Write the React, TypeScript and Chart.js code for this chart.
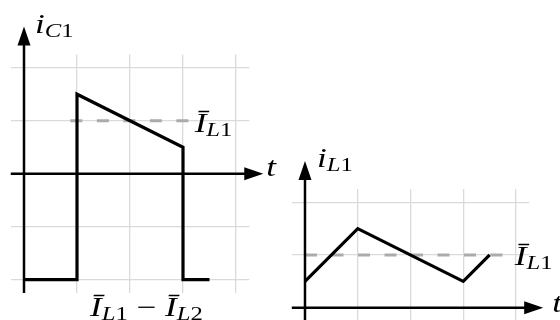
import { useEffect, useRef } from "react";
import { Chart, registerables } from "chart.js";

Chart.register(...registerables);

// Capacitor current i_C1 over one switching period
const capT = [0, 1, 1, 3, 3, 3.5];
const capI = [-2, -2, 1.5, 0.5, -2, -2];
// Average inductor current level shown on the capacitor plot
const capAvgT = [0.875, 3.125];
const capAvgI = [1, 1];

// Inductor current i_L1
const indT = [0, 1, 3, 3.5];
const indI = [0.5, 1.5, 0.5, 1];
const indAvgT = [0, 3.75];
const indAvgI = [1, 1];

const W = 560;
const H = 320;
const FONT = '"Liberation Serif", "DejaVu Serif", serif';
const MAIN = 27;
const SUB = 19;
const SUB_DROP = 4;
const STRETCH = 1.3; // wide math lettering

type Piece = [string, boolean, boolean]; // text, italic, subscript
type Label = { vx: number; vy: number; dx: number; dy: number; pieces: Piece[] };

function drawMath(ctx: CanvasRenderingContext2D, x: number, y: number, pieces: Piece[]) {
  ctx.save();
  ctx.translate(x, y);
  ctx.scale(STRETCH, 1);
  let cx = 0;
  for (const [t, it, sub] of pieces) {
    ctx.font = `${it ? "italic " : ""}${sub ? SUB : MAIN}px ${FONT}`;
    ctx.fillText(t, cx, sub ? SUB_DROP : 0);
    cx += ctx.measureText(t).width;
  }
  ctx.restore();
}

const IL1: Piece[] = [["Ī", true, false], ["L", true, true], ["1", false, true]];
const IL2: Piece[] = [["Ī", true, false], ["L", true, true], ["2", false, true]];

type PlotSpec = {
  xs: number[];
  ys: number[];
  avgX: number[];
  avgY: number[];
  yMin: number;
  padding: { left: number; right: number; top: number; bottom: number };
  labels: Label[];
};

const zip = (a: number[], b: number[]) => a.map((v, i) => ({ x: v, y: b[i] }));

const ARROW_LEN = 19;
const ARROW_HALF = 6.5;

const axesPlugin = {
  id: "arrowAxes",
  afterDatasetsDraw(chart: any) {
    const { ctx, chartArea, scales } = chart;
    const x0 = scales.x.getPixelForValue(0);
    const y0 = scales.y.getPixelForValue(0);
    ctx.save();
    ctx.strokeStyle = "#000";
    ctx.fillStyle = "#000";
    ctx.lineWidth = 2.5;
    // horizontal t-axis
    const hTip = chartArea.right + 14;
    ctx.beginPath();
    ctx.moveTo(chartArea.left, y0);
    ctx.lineTo(hTip - ARROW_LEN + 2, y0);
    ctx.stroke();
    ctx.beginPath();
    ctx.moveTo(hTip, y0);
    ctx.lineTo(hTip - ARROW_LEN, y0 - ARROW_HALF);
    ctx.lineTo(hTip - ARROW_LEN, y0 + ARROW_HALF);
    ctx.closePath();
    ctx.fill();
    // vertical current axis
    const vTip = chartArea.top - 28;
    ctx.beginPath();
    ctx.moveTo(x0, chartArea.bottom);
    ctx.lineTo(x0, vTip + ARROW_LEN - 2);
    ctx.stroke();
    ctx.beginPath();
    ctx.moveTo(x0, vTip);
    ctx.lineTo(x0 - ARROW_HALF, vTip + ARROW_LEN);
    ctx.lineTo(x0 + ARROW_HALF, vTip + ARROW_LEN);
    ctx.closePath();
    ctx.fill();
    ctx.restore();
  },
  afterDraw(chart: any) {
    const { ctx, scales } = chart;
    const labels: Label[] = chart.options.plugins.arrowAxes.labels;
    ctx.save();
    ctx.fillStyle = "#000";
    ctx.textBaseline = "alphabetic";
    for (const l of labels) {
      const px = scales.x.getPixelForValue(l.vx) + l.dx;
      const py = scales.y.getPixelForValue(l.vy) + l.dy;
      drawMath(ctx, px, py, l.pieces);
    }
    ctx.restore();
  },
};

function Plot({ spec }: { spec: PlotSpec }) {
  const ref = useRef<HTMLCanvasElement>(null);
  useEffect(() => {
    if (!ref.current) return;
    const grid = {
      color: "#dadada",
      lineWidth: 1.3,
      drawTicks: false,
    };
    const chart = new Chart(ref.current, {
      type: "scatter",
      data: {
        datasets: [
          {
            data: zip(spec.xs, spec.ys),
            showLine: true,
            borderColor: "#000",
            borderWidth: 3.2,
            pointRadius: 0,
            borderJoinStyle: "miter",
            order: 0,
          },
          {
            data: zip(spec.avgX, spec.avgY),
            showLine: true,
            borderColor: "#ababab",
            borderWidth: 3,
            borderDash: [12, 14.5],
            pointRadius: 0,
            order: 1,
          },
        ],
      },
      options: {
        responsive: false,
        animation: false,
        events: [],
        layout: { padding: spec.padding },
        scales: {
          x: {
            type: "linear",
            min: -0.25,
            max: 4.25,
            grid,
            border: { display: false },
            ticks: { display: false, stepSize: 1, includeBounds: false },
          },
          y: {
            type: "linear",
            min: spec.yMin,
            max: 2.25,
            grid,
            border: { display: false },
            ticks: { display: false, stepSize: 1, includeBounds: false },
          },
        },
        plugins: {
          legend: { display: false },
          tooltip: { enabled: false },
          arrowAxes: { labels: spec.labels },
        } as any,
      },
      plugins: [axesPlugin],
    });
    return () => chart.destroy();
  }, [spec]);
  return (
    <canvas
      ref={ref}
      width={W}
      height={H}
      style={{ position: "absolute", left: 0, top: 0, width: W, height: H }}
    />
  );
}

const leftSpec: PlotSpec = {
  xs: capT,
  ys: capI,
  avgX: capAvgT,
  avgY: capAvgI,
  yMin: -2.25,
  padding: { left: 10.75, right: 310.75, top: 54.45, bottom: 27.05 },
  labels: [
    { vx: 0, vy: 2.25, dx: 11, dy: -21.5, pieces: [["i", true, false], ["C", true, true], ["1", false, true]] },
    { vx: 3.125, vy: 1, dx: 5, dy: 11, pieces: IL1 },
    { vx: 4.25, vy: 0, dx: 17, dy: 2, pieces: [["t", true, false]] },
    { vx: 1, vy: -2.25, dx: 13, dy: 23, pieces: [...IL1, [" − ", false, false], ...IL2] },
  ],
};

const rightSpec: PlotSpec = {
  xs: indT,
  ys: indI,
  avgX: indAvgT,
  avgY: indAvgI,
  yMin: -0.232,
  padding: { left: 291.8, right: 30.8, top: 189, bottom: 0 },
  labels: [
    { vx: 0, vy: 2.25, dx: 12, dy: -22, pieces: [["i", true, false], ["L", true, true], ["1", false, true]] },
    { vx: 3.75, vy: 1, dx: 12, dy: 10, pieces: IL1 },
    { vx: 4.25, vy: 0, dx: 23, dy: 4, pieces: [["t", true, false]] },
  ],
};

export default function App() {
  return (
    <div
      style={{
        position: "fixed",
        left: 0,
        top: 0,
        width: W,
        height: H,
        background: "#fff",
        overflow: "hidden",
      }}
    >
      <Plot spec={leftSpec} />
      <Plot spec={rightSpec} />
    </div>
  );
}
